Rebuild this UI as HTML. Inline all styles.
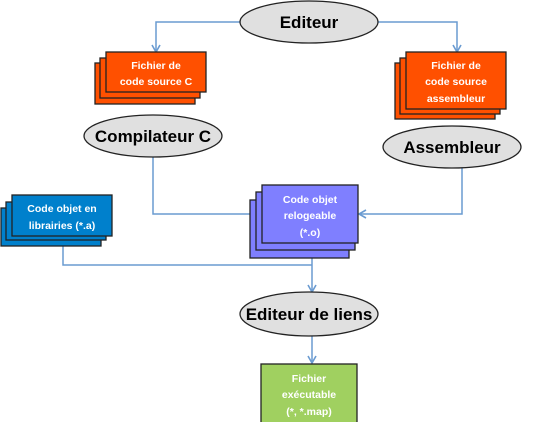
<!DOCTYPE html>
<html><head><meta charset="utf-8"><style>
body{margin:0;background:#fff;width:534px;height:422px;overflow:hidden}
svg text{font-family:"Liberation Sans",sans-serif}
</style></head><body>
<svg width="534" height="422" viewBox="0 0 534 422" xmlns="http://www.w3.org/2000/svg">
<defs><marker id="a" markerWidth="10" markerHeight="10" refX="8" refY="5" orient="auto" markerUnits="userSpaceOnUse"><path d="M1,1 L8,5 L1,9" fill="none" stroke="#6a9bd1" stroke-width="1.6"/></marker></defs>
<g fill="none" stroke="#6a9bd1" stroke-width="1.5">
<path d="M240,22 H156 V52" marker-end="url(#a)"/>
<path d="M378,22 H457 V52" marker-end="url(#a)"/>
<path d="M153,157 V214 H261" marker-end="url(#a)"/>
<path d="M462,167 V214 H359" marker-end="url(#a)"/>
<path d="M63,237 V265 H312"/>
<path d="M312,243 V292" marker-end="url(#a)"/>
<path d="M312,336 V363" marker-end="url(#a)"/>
</g>
<g stroke="#222" stroke-width="1.3">
<rect x="95" y="63" width="100" height="41" fill="#ff5000"/>
<rect x="100" y="58" width="100" height="40" fill="#ff5000"/>
<rect x="106" y="52" width="100" height="40" fill="#ff5000"/>
<rect x="395" y="63" width="100" height="56" fill="#ff5000"/>
<rect x="400" y="58" width="100" height="56" fill="#ff5000"/>
<rect x="406" y="52" width="100" height="57" fill="#ff5000"/>
<rect x="1" y="208" width="100" height="38" fill="#0080cc"/>
<rect x="6" y="202" width="100" height="38" fill="#0080cc"/>
<rect x="12" y="195" width="100" height="41" fill="#0080cc"/>
<rect x="250" y="200" width="99" height="58" fill="#7f7fff"/>
<rect x="256" y="192" width="99" height="58" fill="#7f7fff"/>
<rect x="262" y="185" width="96" height="58" fill="#7f7fff"/>
<rect x="261" y="364" width="96" height="59" fill="#a0d060"/>
<ellipse cx="309" cy="22" rx="69" ry="21" fill="#e0e0e0"/>
<ellipse cx="153" cy="136" rx="69" ry="21" fill="#e0e0e0"/>
<ellipse cx="452" cy="147" rx="69" ry="21" fill="#e0e0e0"/>
<ellipse cx="309" cy="314" rx="69" ry="22" fill="#e0e0e0"/>
</g>
<g font-weight="bold" font-size="17" text-anchor="middle" fill="#000">
<text x="309" y="28">Editeur</text>
<text x="153" y="142">Compilateur C</text>
<text x="452" y="153">Assembleur</text>
<text x="309" y="320">Editeur de liens</text>
</g>
<g font-weight="bold" font-size="10.5" text-anchor="middle" fill="#fff">
<text x="156" y="69">Fichier de</text><text x="156" y="85">code source C</text>
<text x="456" y="69">Fichier de</text><text x="456" y="85">code source</text><text x="456" y="102">assembleur</text>
<text x="62" y="212">Code objet en</text><text x="62" y="229">librairies (*.a)</text>
<text x="310" y="203">Code objet</text><text x="310" y="219">relogeable</text><text x="310" y="236">(*.o)</text>
<text x="309" y="382">Fichier</text><text x="309" y="398">exécutable</text><text x="309" y="415">(*, *.map)</text>
</g>
</svg>
</body></html>
